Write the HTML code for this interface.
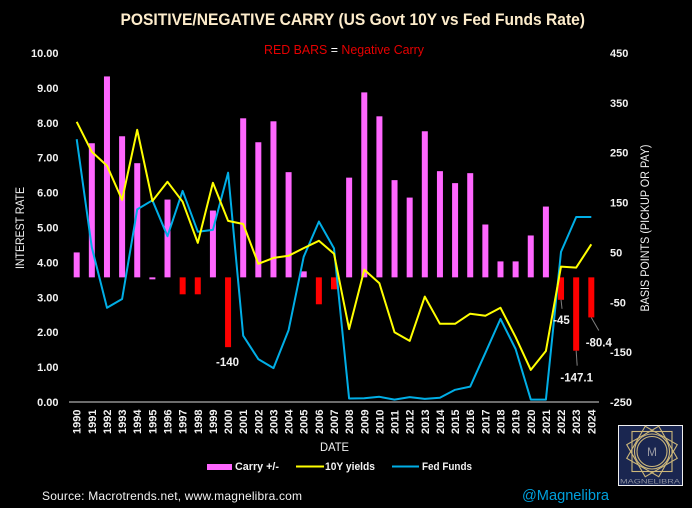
<!DOCTYPE html>
<html>
<head>
<meta charset="utf-8">
<title>Positive/Negative Carry</title>
<style>
html,body{margin:0;padding:0;background:#000;}
svg{display:block;font-family:"Liberation Sans",sans-serif;}
</style>
</head>
<body>
<svg id="chart" width="692" height="508" viewBox="0 0 692 508" xmlns="http://www.w3.org/2000/svg">
<rect width="692" height="508" fill="#000"/>
<text x="120.5" y="25" font-size="17" font-weight="bold" fill="#fdeccb" textLength="464.5" lengthAdjust="spacingAndGlyphs">POSITIVE/NEGATIVE CARRY (US Govt 10Y vs Fed Funds Rate)</text>
<text x="264" y="54" font-size="13" fill="#e60000" textLength="160" lengthAdjust="spacingAndGlyphs">RED BARS <tspan fill="#fff">=</tspan> Negative Carry</text>
<line x1="69" y1="402" x2="599" y2="402" stroke="#d9d9d9" stroke-width="1"/>
<g id="left-ticks"></g>
<g id="right-ticks"></g>
<g id="bars"></g>
<g id="lines"></g>
<g id="x-labels"></g>
<g id="callouts"></g>
<text transform="translate(24,228) rotate(-90)" text-anchor="middle" font-size="11.5" fill="#f2f2f2" textLength="82" lengthAdjust="spacingAndGlyphs">INTEREST RATE</text>
<text transform="translate(649,228) rotate(-90)" text-anchor="middle" font-size="11.5" fill="#f2f2f2" textLength="167" lengthAdjust="spacingAndGlyphs">BASIS POINTS (PICKUP OR PAY)</text>
<text x="320" y="451" font-size="11.5" fill="#f2f2f2" textLength="29" lengthAdjust="spacingAndGlyphs">DATE</text>
<g>
<rect x="207" y="464" width="25" height="6" fill="#ff66ff"/>
<text x="235" y="470" font-size="11" font-weight="bold" fill="#f2f2f2" textLength="44" lengthAdjust="spacingAndGlyphs">Carry +/-</text>
<line x1="296" y1="466.5" x2="324" y2="466.5" stroke="#ffff00" stroke-width="2"/>
<text x="325" y="470" font-size="11" font-weight="bold" fill="#f2f2f2" textLength="50" lengthAdjust="spacingAndGlyphs">10Y yields</text>
<line x1="392" y1="466.5" x2="419" y2="466.5" stroke="#00aee6" stroke-width="2"/>
<text x="422" y="470" font-size="11" font-weight="bold" fill="#f2f2f2" textLength="50" lengthAdjust="spacingAndGlyphs">Fed Funds</text>
</g>
<text x="42" y="500" font-size="12" fill="#f2f2f2" textLength="260" lengthAdjust="spacing">Source: Macrotrends.net, www.magnelibra.com</text>
<text x="522" y="500" font-size="14.5" fill="#00a0dc" textLength="87" lengthAdjust="spacingAndGlyphs">@Magnelibra</text>
<g>
<rect x="618.5" y="425.5" width="64" height="60" fill="#1a2650" stroke="#f0f0f0" stroke-width="1"/>
<g fill="none" stroke="#cdb87a" stroke-width="1.1" transform="translate(652,451.5)">
<rect x="-20" y="-20" width="40" height="40"/>
<rect x="-18.5" y="-18.5" width="37" height="37" transform="rotate(30)"/>
<rect x="-18.5" y="-18.5" width="37" height="37" transform="rotate(60)"/>
<circle r="15"/>
<circle r="17.5"/>
</g>
<text x="652" y="456" text-anchor="middle" font-size="12" fill="#9a9aa2">M</text>
<text x="620" y="483.5" font-size="6.5" fill="#8f93a0" textLength="60" lengthAdjust="spacingAndGlyphs">MAGNELIBRA</text>
</g>
</svg>
<script>
var years = [1990,1991,1992,1993,1994,1995,1996,1997,1998,1999,2000,2001,2002,2003,2004,2005,2006,2007,2008,2009,2010,2011,2012,2013,2014,2015,2016,2017,2018,2019,2020,2021,2022,2023,2024];
var carryBps = [50,269,403,283,229,-4,156,-34,-34,134,-140,319,271,313,211,12,-54,-24,200,371,323,195,160,293,213,189,209,106,32,32,84,142,-45,-147.1,-80.4];
var tenYearYields = [8.03,7.17,6.77,5.79,7.80,5.76,6.31,5.74,4.56,6.28,5.19,5.10,3.96,4.13,4.19,4.41,4.62,4.25,2.09,3.79,3.40,2.00,1.75,3.02,2.24,2.24,2.53,2.47,2.70,1.86,0.92,1.46,3.88,3.85,4.52];
var fedFunds = [7.53,4.43,2.70,2.95,5.52,5.78,4.75,6.05,4.88,4.93,6.57,1.90,1.23,0.97,2.06,4.16,5.17,4.40,0.10,0.11,0.15,0.07,0.14,0.09,0.12,0.35,0.44,1.41,2.38,1.52,0.07,0.07,4.30,5.30,5.30];
var leftTicks = [0,1,2,3,4,5,6,7,8,9,10];
var rightTicks = [-250,-150,-50,50,150,250,350,450];
var calloutYears = [2000,2022,2023,2024];
var calloutLabels = ["-140","-45","-147.1","-80.4"];

var NS = 'http://www.w3.org/2000/svg';
function xScale(i){ return 76.7 + i * (591.3 - 76.7) / (years.length - 1); }
function yLeft(v){ return 402 - v * 34.9; }
function yRight(v){ return 402 - (v + 250) * (349 / 700); }
function el(tag, parent){
  var n = document.createElementNS(NS, tag);
  document.getElementById(parent).appendChild(n);
  return n;
}

leftTicks.forEach(function(v){
  var t = el('text', 'left-ticks');
  
  
  t.setAttribute('x', 58.5);
  t.setAttribute('y', yLeft(v) + 4);
  t.setAttribute('text-anchor', 'end');
  t.setAttribute('font-size', '11');
  t.setAttribute('font-weight', 'bold');
  t.setAttribute('fill', '#f2f2f2');
  t.textContent = v.toFixed(2);
});
rightTicks.forEach(function(v){
  var t = el('text', 'right-ticks');
  
  
  t.setAttribute('x', 610);
  t.setAttribute('y', yRight(v) + 4);
  t.setAttribute('font-size', '11');
  t.setAttribute('font-weight', 'bold');
  t.setAttribute('fill', '#f2f2f2');
  t.textContent = v;
});
years.forEach(function(y, i){
  var t = el('text', 'x-labels');
  
  
  t.setAttribute('transform', 'translate(' + (xScale(i) + 4) + ',434) rotate(-90)');
  t.setAttribute('font-size', '11');
  t.setAttribute('font-weight', 'bold');
  t.setAttribute('fill', '#f2f2f2');
  t.textContent = y;
});
carryBps.forEach(function(v, i){
  var r = el('rect', 'bars');
  
  
  var y0 = yRight(0), y1 = yRight(v);
  r.setAttribute('x', xScale(i) - 3);
  r.setAttribute('y', Math.min(y0, y1));
  r.setAttribute('width', 6);
  r.setAttribute('height', Math.abs(y1 - y0));
  r.setAttribute('fill', v < -5 ? '#ff0000' : '#ff66ff');
});
function drawLine(values, color, name){
  var p = el('polyline', 'lines');
  
  
  p.setAttribute('points', values.map(function(v, i){ return xScale(i).toFixed(1) + ',' + yLeft(v).toFixed(1); }).join(' '));
  p.setAttribute('fill', 'none');
  p.setAttribute('stroke', color);
  p.setAttribute('stroke-width', '2');
  p.setAttribute('stroke-linejoin', 'round');
}
drawLine(fedFunds, '#00aee6', 'fed-funds-line');
drawLine(tenYearYields, '#ffff00', 'ten-year-yield-line');

calloutYears.forEach(function(yr, k){
  var i = years.indexOf(yr);
  var xc = xScale(i), yb = yRight(carryBps[i]);
  var t = el('text', 'callouts');
  
  
  t.setAttribute('font-size', '11.5');
  t.setAttribute('font-weight', 'bold');
  t.setAttribute('fill', '#f2f2f2');
  t.setAttribute('text-anchor', 'middle');
  var lx = xc, ly = yb;
  if (yr === 2000) { lx = xc - 0.5; ly = yb + 19; }
  if (yr === 2022) { lx = xc + 0.5; ly = yb + 24; }
  if (yr === 2023) { lx = xc + 0.5; ly = yb + 31; }
  if (yr === 2024) { lx = xc + 7.5; ly = yb + 29; }
  t.setAttribute('x', lx);
  t.setAttribute('y', ly);
  t.textContent = calloutLabels[k];
  if (yr !== 2000) {
    var l = el('line', 'callouts');
    
    
    l.setAttribute('x1', xc);
    l.setAttribute('y1', yb);
    l.setAttribute('x2', yr === 2024 ? xc + 7.5 : xc + 1);
    l.setAttribute('y2', yr === 2022 ? yb + 9 : (yr === 2023 ? yb + 15 : yb + 13));
    l.setAttribute('stroke', '#7f7f7f');
    l.setAttribute('stroke-width', '1');
  }
});
</script>
</body>
</html>
